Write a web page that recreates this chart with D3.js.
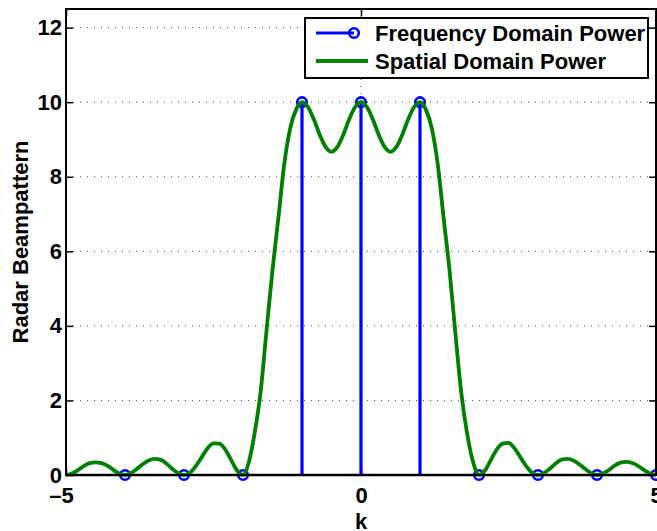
<!DOCTYPE html>
<meta charset="utf-8">
<head>
    <script type="text/javascript" src="https://cdn.jsdelivr.net/npm/d3@7/dist/d3.min.js"></script>
    <style>
        body { margin: 0; background: #fff; }
        text { font-family: "Liberation Sans", Arial, sans-serif; font-weight: bold; }
        .grid line { stroke: #555; stroke-width: 1; stroke-dasharray: 1,6; }
    </style>
</head>
<body>
<script>
    // stem values (frequency domain power)
    var stemK = [-4, -3, -2, -1, 0, 1, 2, 3, 4, 5];
    var stemPower = [0, 0, 0, 10, 10, 10, 0, 0, 0, 0];

    // spatial domain power
    var curveK = [-5.0, -4.9, -4.8, -4.7, -4.6, -4.5, -4.4, -4.3, -4.2, -4.1,
                  -4.0, -3.9, -3.8, -3.7, -3.6, -3.5, -3.4, -3.3, -3.2, -3.1,
                  -3.0, -2.9, -2.8, -2.7, -2.6, -2.5, -2.4, -2.3, -2.2, -2.1,
                  -2.0, -1.9, -1.8, -1.7, -1.6, -1.5, -1.4, -1.3, -1.2, -1.1,
                  -1.0, -0.9, -0.8, -0.7, -0.6, -0.5, -0.4, -0.3, -0.2, -0.1,
                  0.0, 0.1, 0.2, 0.3, 0.4, 0.5, 0.6, 0.7, 0.8, 0.9,
                  1.0, 1.1, 1.2, 1.3, 1.4, 1.5, 1.6, 1.7, 1.8, 1.9,
                  2.0, 2.1, 2.2, 2.3, 2.4, 2.5, 2.6, 2.7, 2.8, 2.9,
                  3.0, 3.1, 3.2, 3.3, 3.4, 3.5, 3.6, 3.7, 3.8, 3.9,
                  4.0, 4.1, 4.2, 4.3, 4.4, 4.5, 4.6, 4.7, 4.8, 4.9, 5.0];
    var curvePower = [0, 0.04, 0.13, 0.24, 0.32, 0.34, 0.32, 0.25, 0.14, 0.04,
                      0, 0.05, 0.16, 0.29, 0.39, 0.43, 0.41, 0.31, 0.17, 0.05,
                      0, 0.06, 0.24, 0.48, 0.72, 0.85, 0.84, 0.68, 0.40, 0.12,
                      0, 0.35, 1.15, 2.25, 3.9, 5.5, 6.9, 8.35, 9.3, 9.8,
                      10, 9.87, 9.54, 9.13, 8.80, 8.67, 8.80, 9.13, 9.54, 9.87,
                      10, 9.87, 9.54, 9.13, 8.80, 8.67, 8.80, 9.13, 9.54, 9.87,
                      10, 9.8, 9.3, 8.35, 6.9, 5.5, 3.8, 2.2, 1.1, 0.35,
                      0, 0.12, 0.40, 0.68, 0.84, 0.86, 0.72, 0.48, 0.24, 0.06,
                      0, 0.05, 0.17, 0.31, 0.41, 0.43, 0.39, 0.29, 0.16, 0.05,
                      0, 0.04, 0.13, 0.25, 0.33, 0.35, 0.32, 0.24, 0.13, 0.04, 0];

    var xTicks = [-5, 0, 5];
    var yTicks = [0, 2, 4, 6, 8, 10, 12];
    var legendNames = ["Frequency Domain Power", "Spatial Domain Power"];

    var w = 657, h = 531;
    var pLeft = 66, pRight = 656, pTop = 9, pBottom = 475;
    var fs = "22px";

    var svg = d3.select("body").append("svg")
        .attr("width", w)
        .attr("height", h);

    var x = d3.scaleLinear().domain([-5, 5]).range([pLeft, pRight]);
    var y = d3.scaleLinear().domain([0, 12.5]).range([pBottom, pTop]);

    // dotted grid
    var grid = svg.append("g").attr("class", "grid");
    grid.selectAll(".gy").data(yTicks).enter().append("line")
        .attr("x1", pLeft).attr("x2", pRight)
        .attr("y1", d => y(d)).attr("y2", d => y(d));
    grid.selectAll(".gx").data(xTicks).enter().append("line")
        .attr("x1", d => x(d)).attr("x2", d => x(d))
        .attr("y1", pTop).attr("y2", pBottom);

    // axes with inward ticks
    var yAxis = d3.axisLeft(y).tickValues(yTicks).tickSize(-7).tickPadding(4).tickFormat(d3.format("d"));
    var yAxisR = d3.axisRight(y).tickValues(yTicks).tickSize(-7).tickFormat("");
    var xAxis = d3.axisBottom(x).tickValues(xTicks).tickSize(-7).tickPadding(12)
        .tickFormat(d => d < 0 ? "\u2013" + Math.abs(d) : d);
    var xAxisT = d3.axisTop(x).tickValues(xTicks).tickSize(-7).tickFormat("");

    function styleAxis(g) {
        g.select(".domain").remove();
        g.selectAll("line").attr("stroke", "#000").attr("stroke-width", 1.5);
        g.selectAll("text").attr("fill", "#000").style("font-size", fs);
    }
    svg.append("g").attr("transform", "translate(" + pLeft + ",0)").call(yAxis).call(styleAxis);
    svg.append("g").attr("transform", "translate(" + pRight + ",0)").call(yAxisR).call(styleAxis);
    svg.append("g").attr("transform", "translate(0," + pBottom + ")").call(xAxis).call(styleAxis)
        .selectAll("text").attr("dx", function(d) { return d < 0 ? -5 : 0; });
    svg.append("g").attr("transform", "translate(0," + pTop + ")").call(xAxisT).call(styleAxis);

    // stems
    var stems = stemK.map((k, i) => ({k: k, p: stemPower[i]}));
    svg.append("g").selectAll("line").data(stems).enter().append("line")
        .attr("x1", d => x(d.k)).attr("x2", d => x(d.k))
        .attr("y1", y(0)).attr("y2", d => y(d.p))
        .attr("stroke", "#0000ff").attr("stroke-width", 3.2);
    svg.append("g").selectAll("circle").data(stems).enter().append("circle")
        .attr("cx", d => x(d.k)).attr("cy", d => y(d.p)).attr("r", 4.8)
        .attr("fill", "none").attr("stroke", "#0000ff").attr("stroke-width", 2.6);

    // stem baseline
    svg.append("line")
        .attr("x1", pLeft).attr("x2", pRight).attr("y1", y(0)).attr("y2", y(0))
        .attr("stroke", "#000").attr("stroke-width", 2.5);

    // spatial curve
    var pts = curveK.map((k, i) => [k, curvePower[i]]);
    var line = d3.line().x(d => x(d[0])).y(d => y(d[1])).curve(d3.curveMonotoneX);
    svg.append("path").datum(pts)
        .attr("d", line)
        .attr("fill", "none")
        .attr("stroke", "#008000")
        .attr("stroke-width", 3.8)
        .attr("stroke-linejoin", "round");

    // frame
    svg.append("rect")
        .attr("x", pLeft).attr("y", pTop)
        .attr("width", pRight - pLeft).attr("height", pBottom - pTop)
        .attr("fill", "none").attr("stroke", "#000").attr("stroke-width", 2);

    // axis labels
    svg.append("text")
        .attr("x", x(0)).attr("y", 529)
        .attr("text-anchor", "middle")
        .style("font-size", fs)
        .text("k");
    svg.append("text")
        .attr("transform", "translate(28," + ((pTop + pBottom) / 2) + ") rotate(-90)")
        .attr("text-anchor", "middle")
        .style("font-size", fs)
        .text("Radar Beampattern");

    // legend
    var lg = svg.append("g");
    lg.append("rect")
        .attr("x", 305).attr("y", 18).attr("width", 343).attr("height", 60)
        .attr("fill", "#fff").attr("stroke", "#000").attr("stroke-width", 2);
    lg.append("line").attr("x1", 316).attr("x2", 354).attr("y1", 33).attr("y2", 33)
        .attr("stroke", "#0000ff").attr("stroke-width", 3.2);
    lg.append("circle").attr("cx", 354).attr("cy", 33).attr("r", 4.8)
        .attr("fill", "none").attr("stroke", "#0000ff").attr("stroke-width", 2.6);
    lg.append("line").attr("x1", 316).attr("x2", 368).attr("y1", 61).attr("y2", 61)
        .attr("stroke", "#008000").attr("stroke-width", 3.8);
    lg.selectAll(".lt").data(legendNames).enter().append("text")
        .attr("x", 375).attr("y", (d, i) => 33 + i * 28)
        .attr("dy", "0.36em")
        .style("font-size", fs)
        .text(d => d);
</script>
</body>
</html>
